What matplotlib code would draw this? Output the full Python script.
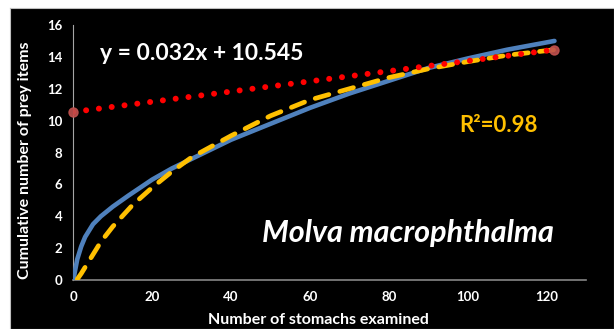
import matplotlib
matplotlib.use("Agg")
import matplotlib.pyplot as plt

# Observed cumulative curve (blue)
obs_x = [0, 1, 2, 3, 5, 7, 10, 14, 20, 25, 30, 40, 50, 60, 70, 80, 90, 100, 110, 122]
obs_y = [0, 1.3, 2.1, 2.7, 3.5, 4.0, 4.6, 5.3, 6.3, 7.0, 7.6, 8.8, 9.8, 10.8, 11.7, 12.5, 13.3, 13.9, 14.45, 15.0]

# Fitted curve (yellow dashed)
fit_x = [1, 2, 4, 7, 10, 15, 20, 25, 30, 40, 50, 60, 70, 80, 90, 100, 110, 122]
fit_y = [0.05, 0.4, 1.2, 2.4, 3.35, 4.7, 5.8, 6.8, 7.7, 9.05, 10.3, 11.3, 12.0, 12.7, 13.25, 13.7, 14.1, 14.45]

# Linear trend (red dotted): y = 0.032x + 10.545
lin_x = [0, 122]
lin_y = [10.545, 14.45]

xticks = [0, 20, 40, 60, 80, 100, 120]
yticks = [0, 2, 4, 6, 8, 10, 12, 14, 16]

W, H = 614, 329
fig = plt.figure(figsize=(W / 100, H / 100), dpi=100, facecolor="white")
bg = fig.add_axes([10 / W, 0, 1 - 10 / W, 1 - 8 / H], zorder=-10)
bg.set_facecolor("black")
bg.set_xticks([])
bg.set_yticks([])
for s in bg.spines.values():
    s.set_color("#bfbfbf")
    s.set_linewidth(0.8)

ax_l, ax_r, ax_b, ax_t = 73.3, 586, 280, 25
ax = fig.add_axes([ax_l / W, 1 - ax_b / H, (ax_r - ax_l) / W, (ax_b - ax_t) / H], zorder=1)
ax.set_facecolor("none")
ax.set_xlim(0, 130)
ax.set_ylim(0, 16)
ax.set_xticks(xticks)
ax.set_yticks(yticks)
ax.tick_params(length=0, colors="white", labelsize=9.5, pad=8)
for lab in ax.get_xticklabels() + ax.get_yticklabels():
    lab.set_fontweight("bold")
    lab.set_fontfamily("Lato")
for s in ["top", "right"]:
    ax.spines[s].set_visible(False)
ax.spines["left"].set_color("#a6a6a6")
ax.spines["left"].set_linewidth(0.8)
ax.spines["bottom"].set_color("#868686")
ax.spines["bottom"].set_linewidth(1.2)

ax.plot(obs_x, obs_y, color="#4f81bd", linewidth=3.3, solid_capstyle="round", zorder=3)
ax.plot(fit_x, fit_y, color="#ffc000", linewidth=3.4, linestyle=(0, (3.0, 2.4)),
        dash_capstyle="round", zorder=4)
ax.plot(lin_x, lin_y, color="#ff0000", linewidth=4.3, linestyle=(0, (0.01, 2.15)),
        dash_capstyle="round", zorder=5)
ax.plot(lin_x, lin_y, linestyle="none", marker="o", markersize=6.5,
        color="#c0504d", alpha=0.9, zorder=6, clip_on=False)

ax.set_xlabel("Number of stomachs examined", color="white", fontsize=11.5,
              fontweight="bold", family="Lato")
ax.xaxis.set_label_coords((318.5 - ax_l) / (ax_r - ax_l), (ax_b - 313) / (ax_b - ax_t))
ax.set_ylabel("Cumulative number of prey items", color="white", fontsize=11.5,
              fontweight="bold", family="Lato")
ax.yaxis.set_label_coords((17 - ax_l) / (ax_r - ax_l), (ax_b - 160.5) / (ax_b - ax_t))
ax.yaxis.label.set_verticalalignment("center")
ax.yaxis.label.set_horizontalalignment("center")
ax.yaxis.set_label_coords((25 - ax_l) / (ax_r - ax_l), (ax_b - 160.5) / (ax_b - ax_t))

fig.text(100 / W, 1 - 53 / H, "y = 0.032x + 10.545", color="white", fontsize=16.5,
         fontweight="bold", family="Lato", va="center", ha="left")
fig.text(459 / W, 1 - 125 / H, "R²=0.98", color="#ffc000", fontsize=16,
         fontweight="bold", family="Lato", va="center", ha="left")
fig.text(262 / W, 1 - 233 / H, "Molva macrophthalma", color="white", fontsize=22,
         fontweight="bold", style="italic", family="Lato", va="center", ha="left")

fig.savefig("out.png", dpi=100, facecolor="white")
